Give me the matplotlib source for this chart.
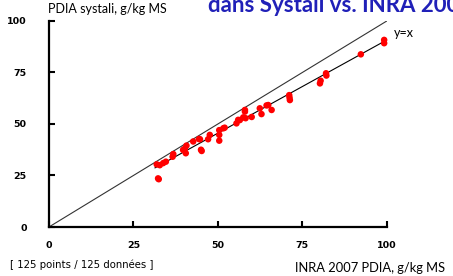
import numpy as np
import matplotlib
matplotlib.use('Agg')
import matplotlib.pyplot as plt

# PDIA values (g/kg MS)
inra_pdia = [31.9, 32.3, 32.5, 32.8, 33.8, 34.6, 36.6, 36.8, 39.7, 40.2, 40.7, 40.5,
             42.7, 44.4, 44.7, 45.0, 45.2, 47.1, 47.6, 50.4, 50.4, 50.4, 51.6, 52.0,
             55.5, 56.0, 56.5, 57.5, 58.0, 58.0, 58.2, 60.0, 62.4, 62.9, 64.4, 64.9,
             65.9, 71.1, 71.3, 71.2, 80.2, 80.4, 82.0, 82.1, 92.3, 99.2, 99.2]
systali_pdia = [30.4, 23.6, 23.2, 30.0, 31.0, 31.7, 34.1, 35.4, 37.4, 38.0, 39.5, 35.8,
                41.5, 42.7, 42.6, 37.5, 36.9, 42.6, 44.7, 47.0, 44.7, 41.9, 47.9, 48.2,
                50.3, 52.0, 51.9, 53.2, 56.0, 56.8, 52.8, 53.4, 57.6, 54.8, 59.0, 59.2,
                56.8, 64.0, 61.6, 62.8, 69.7, 71.0, 74.6, 73.5, 83.8, 90.8, 89.2]
fit_slope = 0.905
fit_intercept = 0.3
ticks = [0, 25, 50, 75, 100]

fig = plt.figure(figsize=(4.53, 2.76), dpi=100)
ax = fig.add_axes([0.108, 0.1775, 0.746, 0.7466])

ax.plot([0, 100], [0, 100], color='#333333', lw=0.8)
fx = np.array([min(inra_pdia) - 0.5, max(inra_pdia)])
ax.plot(fx, fit_slope * fx + fit_intercept, color='black', lw=0.8)
ax.scatter(inra_pdia, systali_pdia, s=22, color='#ff0000', edgecolors='none', zorder=3,
           clip_on=False)
ax.text(102, 94, 'y=x', fontsize=9, family='Lato', va='center')

ax.set_xlim(0, 100)
ax.set_ylim(0, 100)
ax.set_xticks(ticks)
ax.set_yticks(ticks)
ax.spines['top'].set_visible(False)
ax.spines['right'].set_visible(False)
for s in ['left', 'bottom']:
    ax.spines[s].set_linewidth(1.6)
ax.tick_params(direction='in', length=4, width=1.5, labelsize=6.8)
ax.tick_params(axis='x', pad=10)
ax.tick_params(axis='y', pad=16)
for lab in ax.get_xticklabels() + ax.get_yticklabels():
    lab.set_fontweight('bold')

fig.text(48 / 453, 1 - 9 / 276, 'PDIA systali, g/kg MS', fontsize=9, family='Lato',
         va='center', ha='left')
fig.text(445 / 453, 1 - 268 / 276, 'INRA 2007 PDIA, g/kg MS', fontsize=9.3, family='Lato',
         va='center', ha='right')
fig.text(10 / 453, 1 - 265 / 276, '[ 125 points / 125 données ]', fontsize=7.3,
         va='center', ha='left')
fig.text(208 / 453, 1 - 12 / 276, 'dans Systali vs. INRA 2007', fontsize=16,
         family='Lato', fontweight='bold', color='#2020b8', va='baseline', ha='left')

fig.savefig('out.png', dpi=100)
